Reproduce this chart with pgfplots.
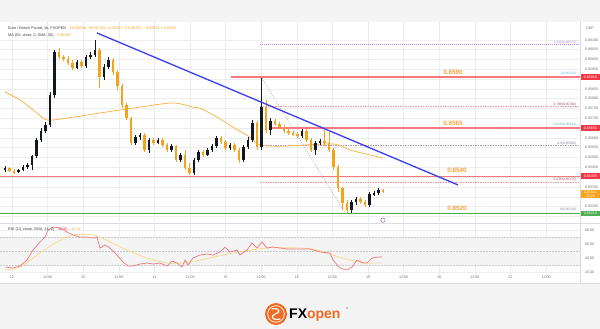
\documentclass[border=0pt]{standalone}
\usepackage{pgfplots}
\pgfplotsset{compat=1.18}
\usepackage{pgfplotstable}
\usepackage{fontspec}
\setmainfont{Liberation Sans}

\definecolor{bgc}{HTML}{F4F4F4}
\definecolor{upc}{HTML}{131722}
\definecolor{dnc}{HTML}{F7A21B}
\definecolor{lvlred}{HTML}{F7797D}
\definecolor{lvlgreen}{HTML}{4CAF50}
\definecolor{lblorange}{HTML}{F5A33C}
\definecolor{trendblue}{HTML}{3A3DF0}
\definecolor{gridc}{HTML}{EDEDED}
\definecolor{axtext}{HTML}{707070}
\definecolor{boxred}{HTML}{F23645}
\definecolor{rsired}{HTML}{F0777A}
\definecolor{rsiyel}{HTML}{F5D98A}
\definecolor{fibpurple}{HTML}{B388E0}
\definecolor{fibpink}{HTML}{E89AA6}
\definecolor{fibgray}{HTML}{A99AB5}
\definecolor{fibblue}{HTML}{6FB7E0}
\definecolor{fibgreen}{HTML}{4DB6AC}
\definecolor{fibdark}{HTML}{9C4F5A}
\definecolor{fxo}{HTML}{F26A21}
\definecolor{sep}{HTML}{DADDE3}

\pgfplotstableread{
t o h l c d
-2.36 0.85436 0.85456 0.85426 0.85446 1
-0.84 0.85446 0.85451 0.85426 0.85431 0
0.67 0.85431 0.85441 0.85416 0.85426 0
2.19 0.85426 0.85441 0.85421 0.85436 1
3.71 0.85436 0.85462 0.85431 0.85451 1
5.22 0.85451 0.85472 0.85441 0.85462 1
6.74 0.85462 0.85513 0.85436 0.85507 1
8.26 0.85507 0.85599 0.85497 0.85589 1
9.77 0.85589 0.85650 0.85579 0.85635 1
11.29 0.85635 0.85681 0.85625 0.85666 1
12.81 0.85666 0.85834 0.85655 0.85819 1
14.32 0.85819 0.86048 0.85803 0.86038 1
15.84 0.86038 0.86058 0.86002 0.86012 0
17.36 0.86012 0.86022 0.85992 0.86002 0
18.87 0.86002 0.86017 0.85972 0.85982 0
20.39 0.85982 0.85997 0.85946 0.85956 0
21.91 0.85956 0.85997 0.85951 0.85987 1
23.42 0.85987 0.85997 0.85956 0.85966 0
24.94 0.85966 0.86022 0.85956 0.86012 1
26.46 0.86012 0.86038 0.86002 0.86022 1
27.97 0.86022 0.86099 0.86012 0.86048 1
29.49 0.86048 0.86058 0.85854 0.85910 0
31.01 0.85910 0.85977 0.85895 0.85961 1
32.52 0.85961 0.86012 0.85951 0.85997 1
34.04 0.85997 0.86007 0.85921 0.85936 0
35.56 0.85936 0.85946 0.85844 0.85864 0
37.07 0.85864 0.85875 0.85752 0.85768 0
38.59 0.85768 0.85778 0.85691 0.85701 0
40.11 0.85701 0.85706 0.85564 0.85574 0
41.62 0.85574 0.85615 0.85564 0.85604 1
43.14 0.85604 0.85625 0.85589 0.85615 1
44.66 0.85615 0.85625 0.85528 0.85538 0
46.17 0.85538 0.85599 0.85523 0.85589 1
47.69 0.85589 0.85599 0.85564 0.85574 0
49.21 0.85574 0.85599 0.85569 0.85589 1
50.72 0.85589 0.85599 0.85553 0.85564 0
52.24 0.85564 0.85574 0.85528 0.85538 0
53.76 0.85538 0.85569 0.85528 0.85558 1
55.27 0.85558 0.85564 0.85477 0.85487 0
56.79 0.85487 0.85523 0.85477 0.85513 1
58.31 0.85513 0.85538 0.85436 0.85446 0
59.82 0.85446 0.85472 0.85411 0.85421 0
61.34 0.85421 0.85497 0.85411 0.85487 1
62.86 0.85487 0.85538 0.85477 0.85528 1
64.37 0.85528 0.85538 0.85502 0.85513 0
65.89 0.85513 0.85548 0.85507 0.85538 1
67.41 0.85538 0.85569 0.85528 0.85558 1
68.92 0.85558 0.85609 0.85548 0.85599 1
70.44 0.85599 0.85609 0.85569 0.85579 0
71.96 0.85579 0.85589 0.85538 0.85548 0
73.48 0.85548 0.85574 0.85538 0.85564 1
74.99 0.85564 0.85574 0.85528 0.85538 0
76.51 0.85538 0.85548 0.85472 0.85487 0
78.03 0.85487 0.85564 0.85477 0.85553 1
79.54 0.85553 0.85604 0.85543 0.85589 1
81.06 0.85589 0.85691 0.85579 0.85676 1
82.58 0.85676 0.85686 0.85538 0.85553 0
84.09 0.85553 0.85905 0.85538 0.85757 1
85.61 0.85757 0.85793 0.85625 0.85640 0
87.13 0.85640 0.85701 0.85615 0.85686 1
88.64 0.85686 0.85696 0.85660 0.85671 0
90.16 0.85671 0.85681 0.85645 0.85655 0
91.68 0.85655 0.85666 0.85625 0.85635 0
93.19 0.85635 0.85645 0.85615 0.85625 0
94.71 0.85625 0.85635 0.85609 0.85620 0
96.23 0.85620 0.85630 0.85599 0.85609 0
97.74 0.85609 0.85645 0.85599 0.85635 1
99.26 0.85635 0.85645 0.85579 0.85589 0
100.78 0.85589 0.85599 0.85528 0.85538 0
102.29 0.85538 0.85584 0.85513 0.85574 1
103.81 0.85574 0.85594 0.85564 0.85584 1
105.33 0.85584 0.85640 0.85558 0.85574 0
106.84 0.85574 0.85630 0.85528 0.85538 0
108.36 0.85538 0.85548 0.85436 0.85451 0
109.88 0.85451 0.85462 0.85324 0.85344 0
111.39 0.85344 0.85349 0.85232 0.85268 0
112.91 0.85268 0.85283 0.85217 0.85232 0
114.43 0.85232 0.85283 0.85217 0.85273 1
115.94 0.85273 0.85298 0.85258 0.85288 1
117.46 0.85288 0.85298 0.85263 0.85273 0
118.98 0.85273 0.85283 0.85247 0.85258 0
120.49 0.85258 0.85324 0.85247 0.85314 1
122.01 0.85314 0.85329 0.85303 0.85319 1
123.53 0.85319 0.85344 0.85309 0.85334 1
125.04 0.85334 0.85339 0.85319 0.85324 0
}\candles

\pgfplotstableread{
t v
-2.36 27.1
0.34 25.7
2.70 28.6
5.06 37.1
7.08 51.4
9.44 62.9
11.12 70.0
12.13 80.0
13.82 84.3
16.18 82.9
18.54 77.1
20.56 72.9
22.92 70.0
25.28 70.0
27.30 68.6
28.65 70.0
29.66 54.3
31.34 58.6
33.03 54.3
35.39 44.3
37.41 34.3
39.10 28.6
40.78 28.6
43.14 31.4
45.50 32.9
47.52 31.4
49.88 32.9
52.24 28.6
53.93 35.7
55.61 32.9
57.30 27.1
58.31 37.1
59.32 30.0
61.01 40.0
63.36 44.3
65.72 45.7
67.74 44.3
70.10 48.6
71.79 55.7
73.47 48.6
75.83 51.4
76.85 44.3
79.20 51.4
80.89 61.4
82.57 54.3
84.26 62.9
85.94 54.3
87.97 55.7
90.33 54.3
92.69 52.9
97.07 52.9
100.44 52.9
103.81 48.6
107.18 47.1
108.19 37.1
110.55 25.7
112.91 22.9
114.59 27.1
116.28 37.1
118.30 32.9
119.65 32.9
121.33 40.0
123.36 41.4
124.71 41.4
}\rsi

\pgfplotstableread{
t v
-2.36 22.9
2.70 27.1
9.44 47.1
15.17 62.9
20.56 72.9
27.30 72.9
33.03 62.9
38.76 51.4
45.50 40.0
52.24 32.9
57.63 32.9
63.36 37.1
74.49 47.1
85.94 54.3
97.07 54.3
102.80 51.4
108.19 44.3
113.92 37.1
119.65 32.9
124.71 32.9
}\rsima

\pgfplotstableread{
t p
-2.36 0.85834
2.70 0.85793
8.43 0.85727
11.80 0.85691
18.54 0.85701
29.66 0.85727
36.40 0.85742
43.14 0.85757
54.26 0.85778
61.01 0.85757
63.36 0.85752
69.09 0.85706
74.49 0.85655
80.22 0.85604
83.59 0.85564
91.34 0.85558
108.19 0.85569
113.92 0.85538
125.04 0.85497
}\sma

\newcommand{\tinyf}{\fontsize{3.6}{4}\selectfont}

\begin{document}
\begin{tikzpicture}[x=1pt,y=1pt]
\fill[bgc] (0,0) rectangle (600,-329);
\useasboundingbox (0,0) rectangle (600,-329);
\fill[white] (0,-22) rectangle (600,-283);

\begin{axis}[
  at={(0pt,-22pt)}, anchor=north west, scale only axis,
  width=580pt, height=200pt,
  xmin=-4.044, xmax=191.44, ymin=0.85171, ymax=0.86191,
  axis line style={draw=none}, major tick length=0pt,
  xtick={0,12,...,180}, xticklabels={},
  ytick={0.8525,0.8535,0.8545,0.8550,0.8555,0.8560,0.8570,0.8575,0.8580,0.8585,0.8595,0.8600,0.8605,0.8610},
  extra y ticks={0.8520,0.8530,0.8540,0.8565,0.8590},
  extra y tick labels={},
  extra y tick style={grid=major},
  scaled y ticks=false,
  yticklabel pos=right,
  yticklabel={\pgfmathprintnumber[fixed,fixed zerofill,precision=5]{\tick}},
  /pgf/number format/assume math mode=true,
  yticklabel style={font=\tinyf, text=axtext, xshift=1.5pt},
  grid=major, major grid style={draw=gridc, line width=0.4pt},
  clip mode=individual,
  candle/.style={draw=none, mark=none, error bars/y dir=both, error bars/y explicit, error bars/error mark=none},
]
% fib levels
\addplot[fibpurple, line width=0.6pt, dash pattern=on 1pt off 1pt] coordinates {(83.59,0.86075) (191.44,0.86075)};
\addplot[fibpink, line width=0.6pt, dash pattern=on 1.5pt off 1pt] coordinates {(83.59,0.85760) (191.44,0.85760)};
\addplot[fibgray, line width=0.6pt, dash pattern=on 1.5pt off 1pt] coordinates {(83.59,0.85560) (191.44,0.85560)};
\addplot[fibpink, line width=0.6pt, dash pattern=on 1.5pt off 1pt] coordinates {(83.59,0.85375) (191.44,0.85375)};
\addplot[gray!60, line width=0.6pt, dash pattern=on 1pt off 1.2pt] coordinates {(84.26,0.85905) (112.23,0.85217)};
% levels
\addplot[draw=lvlred, line width=1.2pt] coordinates {(73.81,0.85910) (191.44,0.85910)};
\addplot[draw=lvlred, line width=1.2pt] coordinates {(86.96,0.85650) (191.44,0.85650)};
\addplot[draw=lvlred, line width=1.2pt] coordinates {(-4.044,0.85405) (191.44,0.85405)};
\addplot[draw=lvlgreen, line width=0.9pt] coordinates {(-4.044,0.85214) (191.44,0.85214)};
% SMA
\addplot[dnc!85, line width=0.7pt, smooth, tension=0.5] table[x=t,y=p] {\sma};
% candles: wicks
\addplot[candle, restrict expr to domain={\thisrow{d}}{0.5:1.5},
  error bars/error bar style={line width=0.5pt, draw=upc, solid}]
  table[x=t, y expr={(\thisrow{h}+\thisrow{l})/2}, y error expr={(\thisrow{h}-\thisrow{l})/2}] {\candles};
\addplot[candle, restrict expr to domain={\thisrow{d}}{-0.5:0.5},
  error bars/error bar style={line width=0.5pt, draw=dnc, solid}]
  table[x=t, y expr={(\thisrow{h}+\thisrow{l})/2}, y error expr={(\thisrow{h}-\thisrow{l})/2}] {\candles};
% bodies
\addplot[candle, restrict expr to domain={\thisrow{d}}{0.5:1.5},
  error bars/error bar style={line width=2.6pt, draw=upc, solid}]
  table[x=t, y expr={(\thisrow{o}+\thisrow{c})/2}, y error expr={abs(\thisrow{c}-\thisrow{o})/2}] {\candles};
\addplot[candle, restrict expr to domain={\thisrow{d}}{-0.5:0.5},
  error bars/error bar style={line width=2.6pt, draw=dnc, solid}]
  table[x=t, y expr={(\thisrow{o}+\thisrow{c})/2}, y error expr={abs(\thisrow{c}-\thisrow{o})/2}] {\candles};
% trend line
\addplot[trendblue, line width=1.3pt] coordinates {(28.65,0.86135) (150.32,0.85360)};
% event marker
\addplot[only marks, mark=o, mark size=2.2pt, draw=fibpurple!80!black, line width=0.5pt] coordinates {(125.04,0.85180)};
% orange labels
\node[anchor=south, text=lblorange, font=\bfseries\fontsize{6.3}{7}\selectfont, inner sep=0.5pt] at (axis cs:148.6,0.85910) [yshift=2pt] {0.8590};
\node[anchor=south, text=lblorange, font=\bfseries\fontsize{6.3}{7}\selectfont, inner sep=0.5pt] at (axis cs:148.6,0.85650) [yshift=2pt] {0.8565};
\node[anchor=south, text=lblorange, font=\bfseries\fontsize{6.3}{7}\selectfont, inner sep=0.5pt] at (axis cs:150.0,0.85405) [yshift=2.5pt] {0.8540};
\node[anchor=south, text=lblorange, font=\bfseries\fontsize{6.3}{7}\selectfont, inner sep=0.5pt] at (axis cs:150.0,0.85214) [yshift=2.5pt] {0.8520};
% fib labels
\node[anchor=south east, text=fibpurple, font=\fontsize{3.3}{3.6}\selectfont, inner sep=0.6pt] at (axis cs:190.4,0.86075) {1.236(0.86075)};
\node[anchor=south east, text=fibblue, font=\fontsize{3.3}{3.6}\selectfont, inner sep=0.6pt] at (axis cs:190.4,0.85910) [yshift=1.5pt] {1(0.85910)};
\node[anchor=south east, text=fibdark, font=\fontsize{3.3}{3.6}\selectfont, inner sep=0.6pt] at (axis cs:190.4,0.85760) {0.786(0.85760)};
\node[anchor=south east, text=fibgreen, font=\fontsize{3.3}{3.6}\selectfont, inner sep=0.6pt] at (axis cs:190.4,0.85650) [yshift=1.5pt] {0.618(0.85643)};
\node[anchor=south east, text=fibgray!80!black, font=\fontsize{3.3}{3.6}\selectfont, inner sep=0.6pt] at (axis cs:190.4,0.85560) {0.5(0.85560)};
\node[anchor=south east, text=fibdark, font=\fontsize{3.3}{3.6}\selectfont, inner sep=0.6pt] at (axis cs:190.4,0.85375) {0.236(0.85375)};
\node[anchor=south east, text=gray, font=\fontsize{3.3}{3.6}\selectfont, inner sep=0.6pt] at (axis cs:190.4,0.85214) [yshift=1.5pt] {0(0.85210)};
% price boxes
\node[anchor=west, fill=boxred, text=white, font=\tinyf, inner sep=0.5pt, minimum width=18.5pt, minimum height=5.8pt] at (axis cs:191.44,0.85910) [xshift=0.8pt] {0.85910};
\node[anchor=west, fill=boxred, text=white, font=\tinyf, inner sep=0.5pt, minimum width=18.5pt, minimum height=5.8pt] at (axis cs:191.44,0.85650) [xshift=0.8pt] {0.85650};
\node[anchor=west, fill=boxred, text=white, font=\tinyf, inner sep=0.5pt, minimum width=18.5pt, minimum height=5.8pt] at (axis cs:191.44,0.85405) [xshift=0.8pt] {0.85405};
\node[anchor=north west, fill=dnc, text=white, font=\tinyf, inner sep=0.8pt, minimum width=18.5pt, align=center] at (axis cs:191.44,0.85322) [xshift=0.8pt, yshift=2.6pt] {0.85322\\25:29};
\node[anchor=west, fill=lvlgreen, text=white, font=\tinyf, inner sep=0.5pt, minimum width=18.5pt, minimum height=5.8pt] at (axis cs:191.44,0.85214) [xshift=0.8pt] {0.85214};
\end{axis}

\begin{axis}[
  at={(0pt,-224pt)}, anchor=north west, scale only axis,
  width=580pt, height=52pt,
  xmin=-4.044, xmax=191.44, ymin=14.3, ymax=88.6,
  axis line style={draw=none}, major tick length=0pt,
  xtick={0,12,...,180},
  xticklabels={12,12:00,13,12:00,14,12:00,15,12:00,16,12:00,19,12:00,20,12:00,21,12:00},
  xticklabel style={font=\tinyf, text=axtext, yshift=3.5pt},
  ytick={20,40,60,80},
  yticklabel pos=right,
  yticklabel={\pgfmathprintnumber[fixed,fixed zerofill,precision=2]{\tick}},
  /pgf/number format/assume math mode=true,
  yticklabel style={font=\tinyf, text=axtext, xshift=1.5pt},
  grid=major, major grid style={draw=gridc, line width=0.4pt},
  clip mode=individual,
]
\addplot[fill=gray!9, draw=none] coordinates {(-4.044,30) (191.44,30) (191.44,70) (-4.044,70)} \closedcycle;
\addplot[gray!45, line width=0.4pt, dash pattern=on 1.5pt off 1.5pt] coordinates {(-4.044,70) (191.44,70)};
\addplot[gray!45, line width=0.4pt, dash pattern=on 1.5pt off 1.5pt] coordinates {(-4.044,50) (191.44,50)};
\addplot[gray!45, line width=0.4pt, dash pattern=on 1.5pt off 1.5pt] coordinates {(-4.044,30) (191.44,30)};
\addplot[rsiyel, line width=0.7pt, smooth, tension=0.5] table[x=t,y=v] {\rsima};
\addplot[rsired, line width=0.7pt] table[x=t,y=v] {\rsi};
\end{axis}

% frame lines
\draw[sep, line width=0.5pt] (0,-223) -- (600,-223);
\draw[sep, line width=0.5pt] (580,-22) -- (580,-283);
\draw[sep, line width=0.5pt] (0,-283) -- (600,-283);

% header texts
\node[anchor=west, inner sep=0, font=\fontsize{3.8}{4}\selectfont, text=black!75] at (8,-29)
  {Euro / British Pound, 1h, FXOPEN\quad\textcolor{dnc}{O0.85326 \ H0.85328 \ L0.85317 \ C0.85322 \ −0.00001 (−0.00\%)}};
\node[anchor=west, inner sep=0, font=\fontsize{3.8}{4}\selectfont, text=black!75] at (8,-36)
  {MA (50, close, 0, SMA, 50)\quad\textcolor{dnc}{0.85497}};
\node[anchor=west, inner sep=0, font=\fontsize{3.8}{4}\selectfont, text=black!75] at (8,-230)
  {RSI (14, close, SMA, 14, 2)\quad\textcolor{boxred}{40.80}\quad\textcolor{dnc!80}{42.09}};
\node[font=\tinyf, text=axtext] at (590,-28) {GBP};

% logo
\fill[fxo] (276,-314) circle (11);
\draw[white, line width=0.7pt] (276,-314) circle (8.3);
\draw[white, line width=1.2pt, line cap=round] (272,-309) .. controls (280,-307) and (281,-313) .. (275,-314) .. controls (270,-316) and (272,-321) .. (280,-319);
\node[anchor=base west, inner sep=0, font=\bfseries\fontsize{14}{14}\selectfont] at (289,-318.5) {\textcolor{black}{FX}\textcolor{fxo}{open}};
\node[anchor=west, inner sep=0, font=\fontsize{3}{3}\selectfont, text=black!60] at (346,-308) {®};
\end{tikzpicture}
\end{document}
